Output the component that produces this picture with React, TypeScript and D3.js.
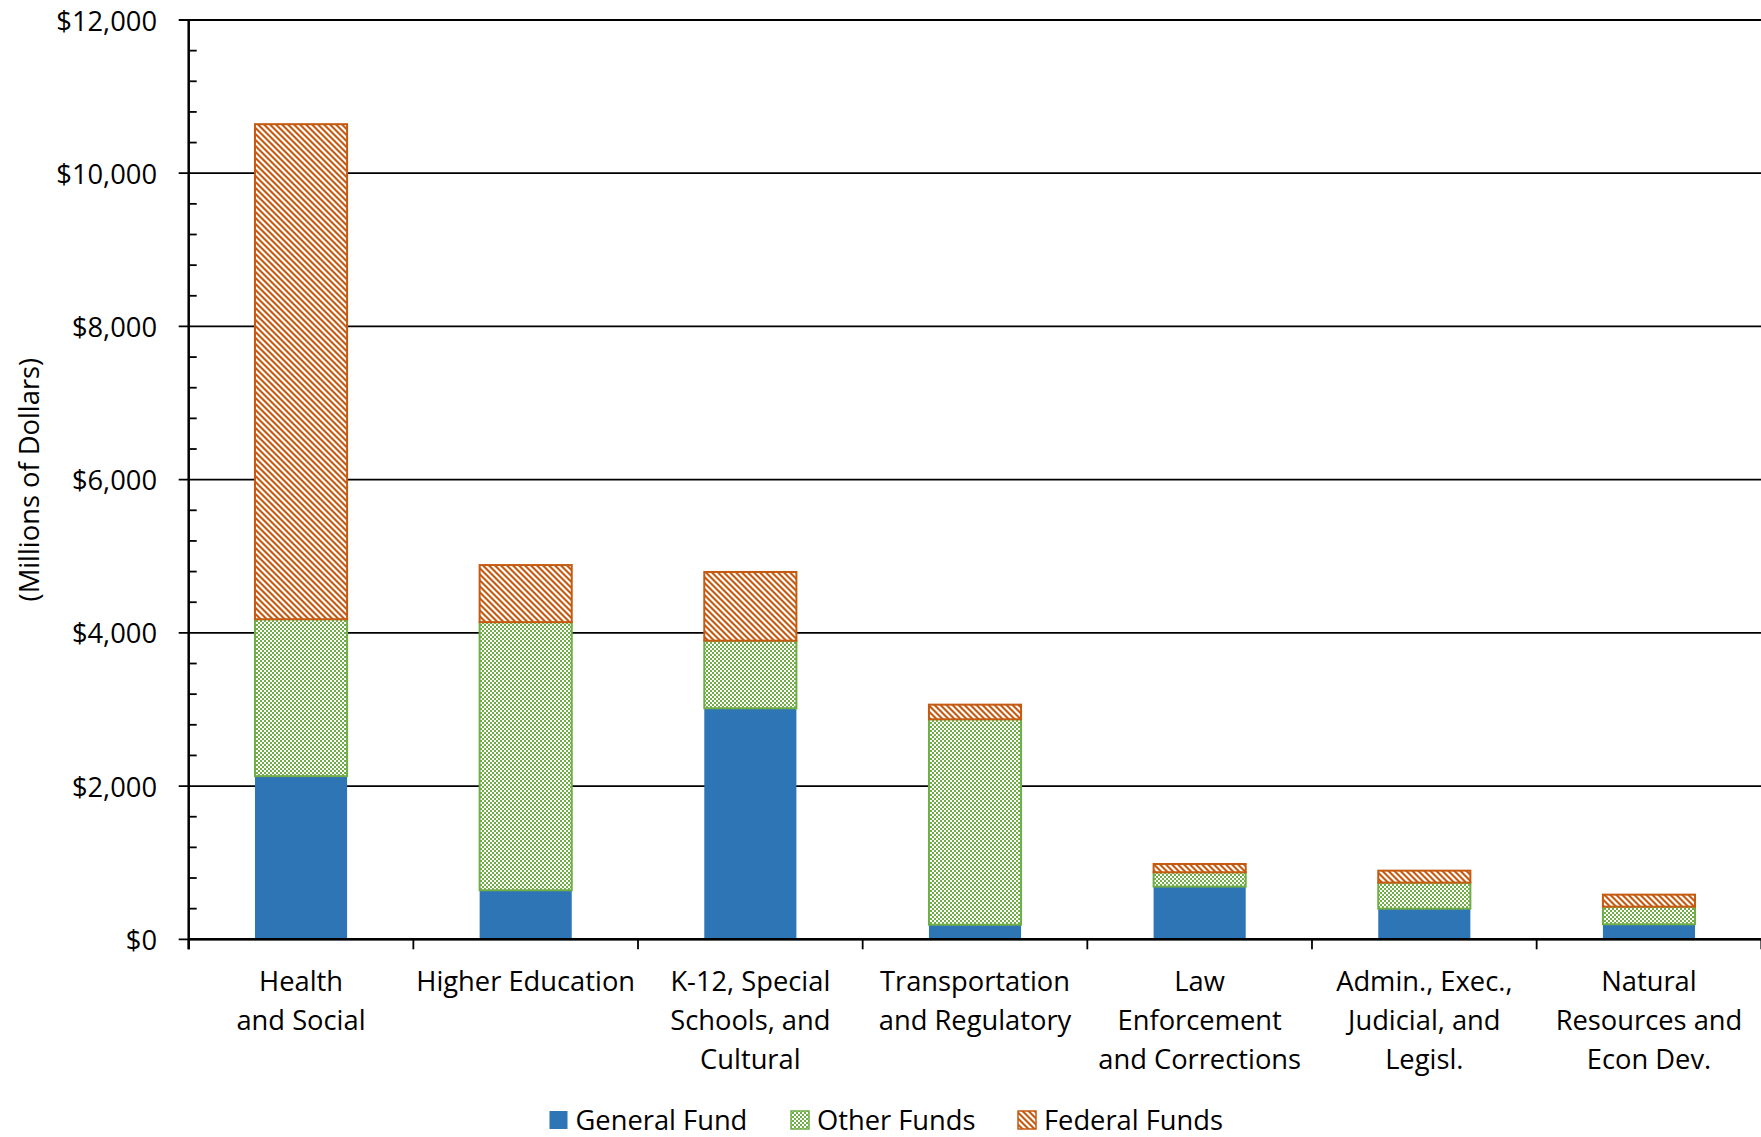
import React from "react";
import * as d3 from "d3";

const categories = [
  ["Health", "and Social"],
  ["Higher Education"],
  ["K-12, Special", "Schools, and", "Cultural"],
  ["Transportation", "and Regulatory"],
  ["Law", "Enforcement", "and Corrections"],
  ["Admin., Exec.,", "Judicial, and", "Legisl."],
  ["Natural", "Resources and", "Econ Dev."],
];
const categoryKeys = categories.map((c) => c.join(" "));

const generalFund = [2130, 640, 3016, 190, 688, 400, 196];
const otherFunds = [2048, 3500, 882, 2682, 187, 340, 230];
const federalFunds = [6462, 745, 897, 191, 108, 156, 157];

const seriesNames = ["General Fund", "Other Funds", "Federal Funds"];
const yTicks = [0, 2000, 4000, 6000, 8000, 10000, 12000];
const yMinorTicks = d3.range(0, 12001, 400).filter((v) => v % 2000 !== 0);

const W = 1761;
const H = 1137;
const FONT = "'Open Sans', sans-serif";
const FS = 27.3;

const BLUE = "#2E75B6";
const GREEN = "#70AD47";
const ORANGE = "#C55A11";

export default function App() {
  const left = 188.7;
  const right = 1761.3;
  const top = 20;
  const bottom = 939.3;

  const x = d3
    .scaleBand<string>()
    .domain(categoryKeys)
    .range([left, right])
    .paddingInner(0.59)
    .paddingOuter(0.295);
  const step = x.step();
  const y = d3.scaleLinear().domain([0, 12000]).range([bottom, top]);

  const rows = categoryKeys.map((k, i) => ({
    key: k,
    general: generalFund[i],
    other: otherFunds[i],
    federal: federalFunds[i],
  }));
  const stack = d3.stack<any>().keys(["general", "other", "federal"]);
  const layers = stack(rows);
  const fills = [BLUE, "url(#of)", "url(#ff)"];
  const strokes = ["none", GREEN, ORANGE];

  const fmt = (v: number) => "$" + d3.format(",")(v);

  const legendItems = [
    { name: seriesNames[0], fill: BLUE, stroke: "none", x: 549.5 },
    { name: seriesNames[1], fill: "url(#of)", stroke: GREEN, x: 791 },
    { name: seriesNames[2], fill: "url(#ff)", stroke: ORANGE, x: 1018 },
  ];

  return (
    <svg
      width={W}
      height={H}
      style={{ position: "absolute", left: 0, top: 0, background: "#fff" }}
      fontFamily={FONT}
    >
      <defs>
        <pattern id="of" patternUnits="userSpaceOnUse" width={4} height={4}>
          <rect width={4} height={4} fill="#fff" />
          <rect x={0} y={0} width={2} height={2} fill={GREEN} />
          <rect x={2} y={2} width={2} height={2} fill={GREEN} />
        </pattern>
        <pattern id="ff" patternUnits="userSpaceOnUse" width={6} height={6}>
          <rect width={6} height={6} fill="#fff" />
          <polygon points="0,0 3,0 6,3 6,6" fill={ORANGE} />
          <polygon points="0,3 3,6 0,6" fill={ORANGE} />
        </pattern>
      </defs>

      {/* gridlines */}
      {yTicks.map((v) => (
        <line
          key={"g" + v}
          x1={left - 10}
          x2={W}
          y1={y(v)}
          y2={y(v)}
          stroke="#000"
          strokeWidth={1.8}
        />
      ))}

      {/* bars */}
      {layers.map((layer, li) =>
        layer.map((d: any, i: number) => {
          const x0 = x(categoryKeys[i])!;
          const bw = x.bandwidth();
          const y0 = y(d[1]);
          const h = y(d[0]) - y(d[1]);
          return (
            <rect
              key={li + "-" + i}
              x={x0}
              y={y0}
              width={bw}
              height={h}
              fill={fills[li]}
              stroke={strokes[li]}
              strokeWidth={strokes[li] === "none" ? 0 : 2}
            />
          );
        })
      )}

      {/* y axis */}
      <line x1={left} x2={left} y1={top} y2={bottom + 10} stroke="#000" strokeWidth={2.5} />
      {yMinorTicks.map((v) => (
        <line key={"m" + v} x1={left} x2={left + 8} y1={y(v)} y2={y(v)} stroke="#000" strokeWidth={1.8} />
      ))}
      {yTicks.map((v) => (
        <text
          key={"t" + v}
          x={157}
          y={y(v)}
          textAnchor="end"
          dominantBaseline="central"
          fontSize={FS}
          fill="#000"
        >
          {fmt(v)}
        </text>
      ))}

      {/* x axis */}
      <line x1={left} x2={W} y1={bottom} y2={bottom} stroke="#000" strokeWidth={2.5} />
      {d3.range(categoryKeys.length + 1).map((i) => (
        <line
          key={"xt" + i}
          x1={left + i * step}
          x2={left + i * step}
          y1={bottom}
          y2={bottom + 10}
          stroke="#000"
          strokeWidth={1.8}
        />
      ))}
      {categories.map((lines, i) => {
        const cx = x(categoryKeys[i])! + x.bandwidth() / 2;
        return (
          <text key={"c" + i} textAnchor="middle" fontSize={FS} fill="#000">
            {lines.map((ln, j) => (
              <tspan key={j} x={cx} y={980 + j * 39} dominantBaseline="central">
                {ln}
              </tspan>
            ))}
          </text>
        );
      })}

      {/* y title */}
      <text
        transform={`translate(28, ${(top + bottom) / 2}) rotate(-90)`}
        textAnchor="middle"
        dominantBaseline="central"
        fontSize={FS}
        fill="#000"
      >
        (Millions of Dollars)
      </text>

      {/* legend */}
      {legendItems.map((it) => (
        <g key={it.name}>
          <rect
            x={it.x}
            y={1111}
            width={18}
            height={18}
            fill={it.fill}
            stroke={it.stroke}
            strokeWidth={it.stroke === "none" ? 0 : 1.5}
          />
          <text x={it.x + 26} y={1119} dominantBaseline="central" fontSize={FS} fill="#000">
            {it.name}
          </text>
        </g>
      ))}
    </svg>
  );
}
